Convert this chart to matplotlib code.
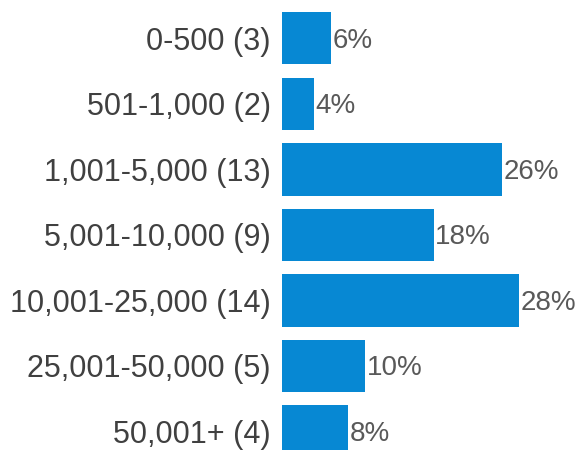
import matplotlib.pyplot as plt

# data
categories = ['0-500', '501-1,000', '1,001-5,000', '5,001-10,000',
              '10,001-25,000', '25,001-50,000', '50,001+']
counts = [3, 2, 13, 9, 14, 5, 4]
percents = [6, 4, 26, 18, 28, 10, 8]

labels = [f'{c} ({n})' for c, n in zip(categories, counts)]

plt.rcParams['font.family'] = ['Liberation Sans', 'DejaVu Sans']

fig = plt.figure(figsize=(5.79, 4.5), dpi=100)
# axes starts where the bars start and runs to the bottom edge
ax = fig.add_axes([282 / 579, 0, 297 / 579, 1])

rows = range(len(categories))
ax.barh(rows, percents, height=0.8, color='#0788d3')

# zero of the scale sits a touch left of the visible bar start
px_per_pct = 8.54
x0 = (282 - 279.8) / px_per_pct
ax.set_xlim(x0, x0 + 297 / px_per_pct)
ax.set_ylim((450 - 38.3) / 65.5, -38.3 / 65.5)

ax.set_yticks(list(rows))
ax.set_yticklabels(labels, fontsize=22, color='#404040')
ax.tick_params(axis='y', length=0, pad=8)
ax.set_xticks([])
for s in ax.spines.values():
    s.set_visible(False)

# value labels just right of each bar
for i, p in enumerate(percents):
    ax.annotate(f'{p}%', xy=(p, i), xytext=(1, -6.8), textcoords='offset points',
                va='baseline', ha='left', fontsize=20, color='#595959',
                annotation_clip=False)

fig.savefig('out.png', dpi=100)
